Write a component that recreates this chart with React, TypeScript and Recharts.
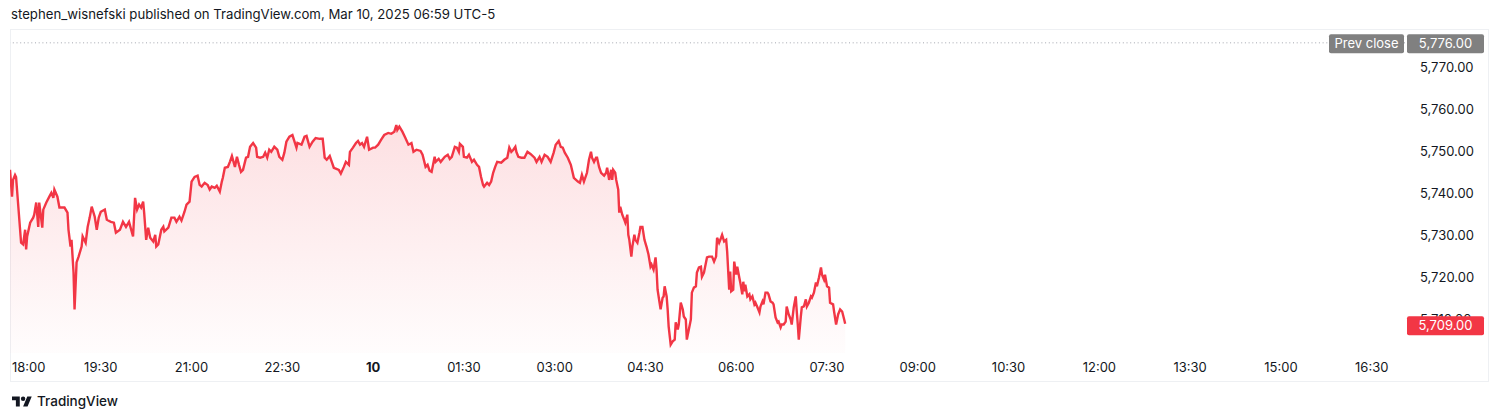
import React from 'react';
import {
  ComposedChart,
  Area,
  XAxis,
  YAxis,
  ReferenceLine,
} from 'recharts';

// minutes after 18:00 (session open)
const minutes = [
  0, 2, 3, 5, 6, 11, 13, 15, 16, 17,
  20, 23, 24, 26, 28, 29, 32, 33, 36, 39,
  41, 43, 44, 47, 49, 54, 57, 58, 60, 61,
  63, 64, 66, 68, 71, 72, 75, 77, 79, 81,
  84, 86, 88, 90, 94, 96, 100, 103, 105, 109,
  112, 115, 118, 122, 124, 126, 128, 130, 132, 133,
  135, 137, 139, 142, 144, 145, 147, 150, 152, 153,
  157, 160, 163, 165, 168, 170, 173, 175, 178, 180,
  183, 186, 188, 190, 193, 196, 198, 200, 203, 205,
  208, 210, 211, 213, 216, 218, 220, 223, 225, 227,
  229, 231, 234, 236, 238, 241, 244, 245, 248, 251,
  253, 255, 257, 259, 262, 265, 267, 270, 272, 274,
  277, 280, 284, 285, 289, 292, 294, 295, 297, 300,
  303, 307, 310, 312, 314, 317, 319, 321, 323, 326,
  328, 331, 333, 336, 337, 340, 343, 345, 347, 349,
  351, 354, 356, 360, 362, 365, 368, 371, 375, 378,
  381, 383, 384, 386, 389, 392, 395, 398, 400, 403,
  407, 409, 412, 414, 416, 418, 421, 422, 425, 427,
  431, 434, 436, 438, 441, 443, 445, 446, 449, 450,
  453, 455, 458, 460, 463, 465, 467, 469, 470, 473,
  475, 477, 479, 481, 483, 487, 490, 493, 495, 497,
  499, 501, 502, 504, 507, 510, 513, 516, 520, 522,
  525, 527, 530, 533, 536, 539, 541, 544, 546, 548,
  550, 553, 556, 559, 563, 565, 567, 569, 572, 574,
  576, 577, 579, 581, 582, 584, 586, 589, 591, 592,
  594, 596, 597, 598, 600, 601, 603, 604, 605, 607,
  609, 610, 612, 613, 614, 616, 617, 619, 620, 622,
  624, 625, 627, 629, 631, 633, 635, 636, 638, 640,
  641, 642, 644, 645, 647, 648, 649, 651, 652, 653,
  655, 657, 659, 660, 662, 663, 665, 667, 668, 670,
  671, 673, 675, 676, 678, 680, 681, 683, 685, 686,
  688, 689, 691, 693, 696, 698, 700, 701, 703, 705,
  706, 708, 710, 711, 713, 714, 715, 717, 718, 720,
  721, 723, 724, 726, 727, 728, 729, 731, 733, 734,
  736, 738, 739, 741, 743, 744, 746, 747, 749, 751,
  752, 754, 756, 757, 759, 761, 762, 764, 765, 767,
  769, 770, 772, 774, 775, 777, 779, 780, 781, 782,
  784, 785, 787, 789, 790, 792, 794, 795, 797, 799,
  800, 802, 804, 805, 807, 808, 810, 812, 813, 816,
  817, 819, 821, 823, 825, 827, 828,
];

const prices = [
  5745.7, 5739.3, 5743.3, 5744.5, 5744.0, 5728.3, 5727.9, 5731.4, 5726.7, 5729.8,
  5733.1, 5734.3, 5735.0, 5737.9, 5732.1, 5737.9, 5731.9, 5736.2, 5737.9, 5739.3,
  5740.2, 5739.0, 5741.0, 5739.3, 5736.7, 5736.7, 5735.5, 5731.4, 5727.4, 5729.0,
  5721.2, 5712.4, 5723.6, 5725.0, 5727.4, 5729.8, 5728.3, 5732.1, 5734.3, 5736.9,
  5734.5, 5731.4, 5734.3, 5735.7, 5736.2, 5733.8, 5733.3, 5733.1, 5730.7, 5731.4,
  5733.3, 5732.1, 5733.3, 5729.8, 5739.0, 5736.2, 5737.4, 5736.7, 5738.1, 5735.5,
  5729.0, 5731.9, 5729.5, 5728.6, 5730.2, 5727.4, 5727.9, 5731.4, 5732.1, 5731.0,
  5731.9, 5734.3, 5734.3, 5733.3, 5734.5, 5733.6, 5735.7, 5737.4, 5738.1, 5742.9,
  5744.0, 5744.3, 5742.1, 5741.7, 5742.6, 5742.1, 5741.0, 5741.7, 5741.4, 5741.9,
  5740.5, 5742.9, 5743.8, 5746.2, 5746.4, 5747.6, 5749.0, 5746.4, 5748.8, 5746.9,
  5745.2, 5745.7, 5748.6, 5748.8, 5751.2, 5752.1, 5751.0, 5748.8, 5748.6, 5748.8,
  5749.8, 5748.6, 5750.5, 5750.0, 5751.2, 5750.5, 5748.8, 5748.1, 5749.8, 5752.4,
  5753.6, 5754.0, 5751.0, 5752.1, 5751.7, 5753.6, 5753.8, 5752.9, 5751.2, 5752.4,
  5753.3, 5753.1, 5753.1, 5748.6, 5748.1, 5749.0, 5747.6, 5746.2, 5746.0, 5745.7,
  5744.8, 5746.4, 5747.6, 5746.9, 5750.0, 5751.0, 5752.1, 5752.6, 5751.7, 5752.1,
  5751.2, 5753.6, 5750.5, 5751.0, 5751.0, 5751.7, 5752.9, 5754.0, 5754.5, 5754.3,
  5754.8, 5756.4, 5755.2, 5756.0, 5754.8, 5753.3, 5751.7, 5752.1, 5750.0, 5750.5,
  5750.2, 5749.3, 5746.4, 5746.9, 5745.5, 5745.2, 5748.8, 5747.6, 5748.3, 5747.6,
  5748.8, 5749.3, 5748.3, 5748.8, 5751.2, 5751.0, 5750.0, 5751.9, 5751.2, 5748.8,
  5748.6, 5749.3, 5747.6, 5748.1, 5746.9, 5746.4, 5744.0, 5742.1, 5741.7, 5742.6,
  5742.1, 5742.9, 5745.0, 5746.4, 5747.6, 5747.4, 5748.1, 5748.6, 5751.0, 5750.0,
  5750.5, 5751.2, 5750.0, 5748.8, 5748.6, 5748.6, 5750.0, 5749.5, 5748.6, 5747.6,
  5748.8, 5747.6, 5749.3, 5748.8, 5747.6, 5749.8, 5751.7, 5752.6, 5751.2, 5751.0,
  5749.8, 5748.6, 5746.9, 5743.8, 5742.9, 5742.6, 5744.5, 5742.9, 5745.0, 5748.1,
  5750.0, 5748.6, 5747.6, 5748.6, 5748.6, 5746.4, 5745.0, 5744.3, 5745.0, 5746.2,
  5743.3, 5745.7, 5743.3, 5745.7, 5745.0, 5743.3, 5741.0, 5735.5, 5736.9, 5735.0,
  5733.8, 5733.1, 5735.0, 5730.2, 5729.0, 5725.0, 5727.4, 5730.2, 5729.0, 5728.3,
  5730.7, 5732.1, 5732.1, 5729.0, 5727.4, 5725.5, 5722.6, 5723.1, 5721.9, 5724.8,
  5721.9, 5717.1, 5714.0, 5712.4, 5715.2, 5715.5, 5717.9, 5715.5, 5712.4, 5708.3,
  5704.0, 5704.8, 5705.2, 5709.3, 5707.6, 5708.8, 5714.0, 5712.4, 5710.7, 5710.0,
  5705.2, 5707.6, 5710.0, 5716.4, 5717.6, 5717.9, 5721.2, 5722.4, 5722.6, 5720.2,
  5721.2, 5722.4, 5724.8, 5725.0, 5725.0, 5723.8, 5725.0, 5729.5, 5728.3, 5729.5,
  5730.2, 5728.6, 5729.0, 5726.2, 5717.1, 5721.4, 5716.7, 5717.1, 5723.8, 5720.7,
  5722.6, 5720.0, 5718.8, 5716.0, 5719.0, 5716.7, 5718.3, 5715.5, 5716.0, 5714.8,
  5715.5, 5713.6, 5714.0, 5712.9, 5711.7, 5713.1, 5714.3, 5713.6, 5716.4, 5716.4,
  5716.0, 5714.3, 5714.0, 5713.6, 5710.5, 5709.3, 5709.5, 5708.1, 5708.8, 5708.8,
  5709.5, 5713.1, 5711.2, 5710.0, 5708.8, 5712.9, 5715.5, 5711.9, 5708.8, 5705.2,
  5710.7, 5712.9, 5713.1, 5714.8, 5713.1, 5714.0, 5715.5, 5715.2, 5716.4, 5718.8,
  5717.9, 5720.0, 5722.4, 5720.7, 5719.5, 5720.7, 5717.9, 5717.6, 5714.0, 5713.6,
  5711.9, 5708.8, 5711.2, 5712.4, 5711.9, 5710.0, 5709.0,
];

const timeTicks = [0, 90, 180, 270, 360, 450, 540, 630, 720, 810, 900, 990, 1080, 1170, 1260, 1350];
const timeLabels = ['18:00', '19:30', '21:00', '22:30', '10', '01:30', '03:00', '04:30', '06:00', '07:30', '09:00', '10:30', '12:00', '13:30', '15:00', '16:30'];
const priceTicks = [5710, 5720, 5730, 5740, 5750, 5760, 5770];

const prevClose = 5776;
const lastPrice = prices[prices.length - 1];

const FONT = 'Inter, "Noto Sans", sans-serif';
const TEXT = '#131722';
const RED = '#f23645';

const fmt = (v: number) =>
  v.toLocaleString('en-US', { minimumFractionDigits: 2, maximumFractionDigits: 2 });

const data = minutes.map((m, i) => ({ m, price: prices[i] }));

const TimeTick = (props: any) => {
  const { x, y, payload } = props;
  const idx = timeTicks.indexOf(payload.value);
  const label = timeLabels[idx];
  const first = idx === 0;
  return (
    <text
      x={first ? x + 2 : x}
      y={y + 19}
      textAnchor={first ? 'start' : 'middle'}
      fontSize={13}
      fontFamily={FONT}
      fontWeight={label === '10' ? 700 : 400}
      fill={TEXT}
    >
      {label}
    </text>
  );
};

const PriceTick = (props: any) => {
  const { x, y, payload } = props;
  return (
    <text x={x} y={y + 4.5} textAnchor="start" fontSize={13} fontFamily={FONT} fill={TEXT}>
      {fmt(payload.value)}
    </text>
  );
};

const PrevCloseLabel = (props: any) => {
  const { viewBox } = props;
  const right = viewBox.x + viewBox.width;
  const top = viewBox.y - 8.5;
  return (
    <g fontFamily={FONT} fontSize={13}>
      <rect x={right - 76} y={top} width={75} height={19} rx={2} fill="#808080" />
      <text x={right - 38.5} y={top + 14} textAnchor="middle" fill="#fff">Prev close</text>
      <rect x={right + 2} y={top} width={77} height={19} rx={2} fill="#808080" />
      <text x={right + 40.5} y={top + 14} textAnchor="middle" fill="#fff">{fmt(prevClose)}</text>
    </g>
  );
};

const LastPriceLabel = (props: any) => {
  const { viewBox } = props;
  const right = viewBox.x + viewBox.width;
  const top = viewBox.y - 7.5;
  return (
    <g fontFamily={FONT} fontSize={13}>
      <rect x={right + 2} y={top} width={77} height={19} rx={2} fill={RED} />
      <text x={right + 40.5} y={top + 14} textAnchor="middle" fill="#fff">{fmt(lastPrice)}</text>
    </g>
  );
};

export default function App() {
  return (
    <div
      style={{
        position: 'absolute',
        left: 0,
        top: 0,
        width: 1500,
        height: 420,
        background: '#fff',
        fontFamily: FONT,
        color: TEXT,
      }}
    >
      {/* header */}
      <div style={{ position: 'absolute', left: 11, top: 6, fontSize: 13.2, whiteSpace: 'nowrap' }}>
        stephen_wisnefski published on TradingView.com, Mar 10, 2025 06:59 UTC-5
      </div>

      {/* frame */}
      <div
        style={{
          position: 'absolute',
          left: 10,
          top: 29,
          width: 1477,
          height: 351,
          border: '1px solid #eef0f3',
        }}
      />

      <div style={{ position: 'absolute', left: 10, top: 29 }}>
        <ComposedChart width={1478} height={352} data={data} margin={{ top: 0, right: 0, bottom: 0, left: 0 }}>
          <defs>
            <linearGradient id="fillRed" x1="0" y1="0" x2="0" y2="1">
              <stop offset="0%" stopColor={RED} stopOpacity={0.26} />
              <stop offset="100%" stopColor={RED} stopOpacity={0.02} />
            </linearGradient>
          </defs>
          <XAxis
            dataKey="m"
            type="number"
            domain={[0, 1383]}
            ticks={timeTicks}
            height={28}
            axisLine={false}
            tickLine={false}
            tickSize={0}
            tickMargin={0}
            tick={<TimeTick />}
            interval={0}
            allowDataOverflow
          />
          <YAxis
            orientation="right"
            type="number"
            domain={[5702, 5779.3]}
            ticks={priceTicks}
            width={83}
            axisLine={false}
            tickLine={false}
            tickSize={0}
            tickMargin={15}
            tick={<PriceTick />}
            interval={0}
            allowDataOverflow
          />
          <Area
            type="linear"
            dataKey="price"
            stroke={RED}
            strokeWidth={2.4}
            fill="url(#fillRed)"
            dot={false}
            activeDot={false}
            isAnimationActive={false}
          />
          <ReferenceLine
            y={prevClose}
            stroke="#a3a6af"
            strokeDasharray="1 2.7"
            strokeWidth={1}
            label={<PrevCloseLabel />}
            zIndex={2100}
          />
          <ReferenceLine
            y={lastPrice}
            stroke="none"
            strokeOpacity={0}
            label={<LastPriceLabel />}
            zIndex={2100}
          />
        </ComposedChart>
      </div>

      {/* footer logo */}
      <svg style={{ position: 'absolute', left: 12, top: 394 }} width={20} height={16} viewBox="0 0 36 28">
        <path d="M14 22H7V11H0V4h14v18zM28 22h-8l7.5-18h8L28 22z" fill={TEXT} />
        <circle cx="20" cy="8" r="4" fill={TEXT} />
      </svg>
      <div style={{ position: 'absolute', left: 37, top: 393, fontSize: 13.5, fontWeight: 500, whiteSpace: 'nowrap' }}>
        TradingView
      </div>
    </div>
  );
}
